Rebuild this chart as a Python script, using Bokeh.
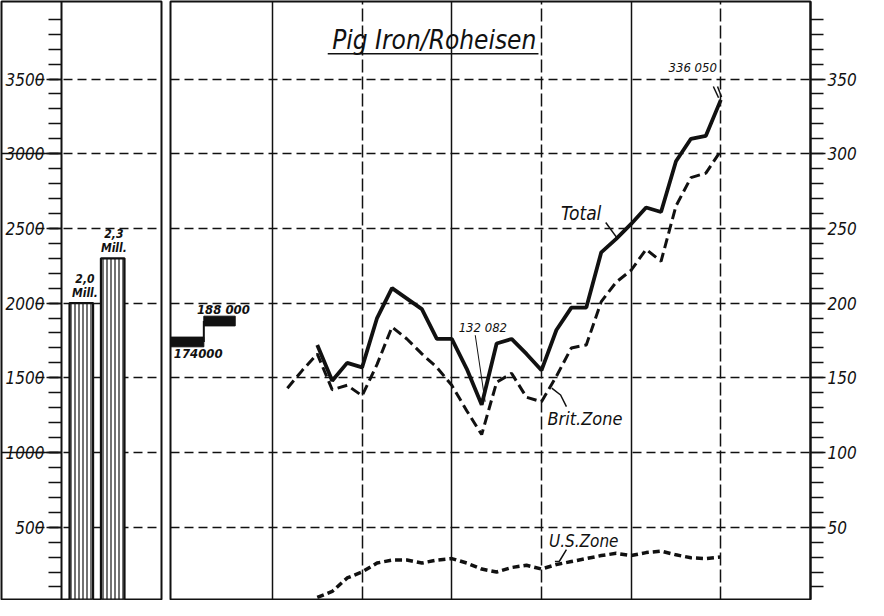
from bokeh.plotting import figure
from bokeh.layouts import row
from bokeh.models import FixedTicker, Grid
from bokeh.core.properties import value
from bokeh.embed import file_html
from bokeh.resources import INLINE

# ---------------- data ----------------
# annual pre-war production (thousand t, left scale)
annual_values = [2000, 2300]
annual_labels = ["2,0\nMill.", "2,3\nMill."]

# pre-war monthly averages (thousand t, right scale)
prewar_monthly = [174, 188]
prewar_labels = ["174000", "188 000"]

# monthly production, thousand t (month index 0 = first solid year line)
brit_months = list(range(1, 31))
brit_zone = [143, 155, 166, 142, 145, 138, 159, 184, 176, 166, 157, 145, 128, 112, 147,
             153, 137, 134, 151, 170, 172, 201, 214, 222, 236, 228, 265, 284, 287, 302]

total_months = list(range(3, 31))
total = [172, 148, 160, 157, 190, 210, 203, 196, 176, 176, 156, 132, 173, 176, 166,
         155, 182, 197, 197, 234, 243, 253, 264, 261, 295, 310, 312, 336.05]
us_zone = [3, 7, 16, 20, 26, 28, 28, 26, 28, 29, 26, 22, 20, 23, 24.5,
           22, 25, 27, 29, 31, 32.5, 31, 33, 34, 31.5, 29.5, 29, 30]

left_ticks = [500, 1000, 1500, 2000, 2500, 3000, 3500]
left_minor = list(range(100, 4000, 100))
right_ticks = [50, 100, 150, 200, 250, 300, 350]
right_minor = list(range(10, 400, 10))
year_lines = [0, 12, 24]
half_year_lines = [6, 18, 30]

# ---------------- style ----------------
FONT = "DejaVu Sans Condensed"
H = 600
BLACK = "#111111"


def style_axis(ax, major_out, minor_out):
    ax.axis_line_width = 2
    ax.axis_line_color = BLACK
    ax.major_tick_out = major_out
    ax.major_tick_in = 0
    ax.minor_tick_out = minor_out
    ax.minor_tick_in = 0
    ax.major_tick_line_width = 1.6
    ax.minor_tick_line_width = 1.6
    ax.major_tick_line_color = BLACK
    ax.minor_tick_line_color = BLACK
    ax.major_label_text_font = FONT
    ax.major_label_text_font_style = "italic"
    ax.major_label_text_font_size = "17px"
    ax.major_label_text_color = BLACK
    ax.major_label_standoff = 2


# ---------------- left panel (annual) ----------------
left = figure(width=165, height=H, x_range=(0, 163), y_range=(16, 4019),
              output_backend="svg", toolbar_location=None,
              x_axis_location=None, y_axis_location="left",
              min_border_left=1, min_border_right=4, min_border_top=1, min_border_bottom=1)
left.outline_line_color = BLACK
left.outline_line_width = 2
left.outline_line_alpha = 1
left.background_fill_color = "white"
left.border_fill_color = "white"
left.xgrid.visible = False
left.ygrid.visible = False

lax = left.yaxis[0]
lax.fixed_location = 61
lax.ticker = FixedTicker(ticks=left_ticks, minor_ticks=left_minor)
style_axis(lax, 15, 13)

left.add_layout(Grid(dimension=1, ticker=FixedTicker(ticks=left_ticks),
                     grid_line_color=BLACK, grid_line_width=1.5, grid_line_dash="9 5",
                     cross_bounds=(35, 163)))
left.add_layout(Grid(dimension=1, ticker=FixedTicker(ticks=[1000, 3000]),
                     grid_line_color=BLACK, grid_line_width=1.5,
                     cross_bounds=(0, 61)))

bar_x = [81.3, 113.3]
left.vbar(x=bar_x, top=annual_values, bottom=0, width=24,
          fill_color="white", line_color=BLACK, line_width=2.2,
          hatch_pattern="vertical_line", hatch_color=BLACK, hatch_scale=4, hatch_weight=1.2)
left.text(x=[85, 114.5], y=annual_values, text=annual_labels,
          text_font=value(FONT), text_font_style="bold italic", text_font_size="12px",
          text_align="center", text_baseline="bottom", text_line_height=1.0,
          y_offset=-3, text_color=BLACK)

# ---------------- right panel (monthly) ----------------
right = figure(width=696, height=H, x_range=(-6.82, 36.0), y_range=(1.6, 401.9),
               output_backend="svg", toolbar_location=None,
               x_axis_location=None, y_axis_location="right",
               min_border_left=5, min_border_right=51, min_border_top=1, min_border_bottom=1)
right.outline_line_color = BLACK
right.outline_line_width = 2
right.outline_line_alpha = 1
right.background_fill_color = "white"
right.border_fill_color = "white"
right.xgrid.visible = False
right.ygrid.visible = False

rax = right.yaxis[0]
rax.ticker = FixedTicker(ticks=right_ticks, minor_ticks=right_minor)
style_axis(rax, 15, 13)

right.add_layout(Grid(dimension=1, ticker=FixedTicker(ticks=right_ticks),
                      grid_line_color=BLACK, grid_line_width=1.5, grid_line_dash="9 5"))
right.add_layout(Grid(dimension=0, ticker=FixedTicker(ticks=year_lines),
                      grid_line_color=BLACK, grid_line_width=1.5))
right.add_layout(Grid(dimension=0, ticker=FixedTicker(ticks=half_year_lines),
                      grid_line_color=BLACK, grid_line_width=1.5, grid_line_dash="13 4"))

# pre-war monthly averages as a step of thick bars
pre_left = [-6.82, -4.59]
pre_right = [-4.59, -2.49]
right.hbar(y=prewar_monthly, left=pre_left, right=pre_right, height=6.5, color=BLACK)
right.segment(x0=[pre_right[0]], y0=[prewar_monthly[0]], x1=[pre_right[0]], y1=[prewar_monthly[1]],
              line_width=2, color=BLACK)
right.text(x=[-6.6, -5.05], y=[166, 195.4], text=prewar_labels,
           text_font=value(FONT), text_font_style="bold italic", text_font_size="13px",
           text_baseline="middle", text_color=BLACK)

# series
right.line(brit_months, brit_zone, line_width=3, line_dash="10 5", color=BLACK)
right.line(total_months, total, line_width=3.8, color=BLACK)
right.line(total_months, us_zone, line_width=3.5, line_dash="7 4", color=BLACK)


def label(x, y, text, size, style="italic"):
    right.text(x=[x], y=[y], text=[text], text_font=value(FONT), text_font_style=style,
               text_font_size=size, text_baseline="middle", text_align="left",
               text_color=BLACK)


label(4.0, 376.3, "Pig Iron/Roheisen", "26px")
right.line([3.7, 17.8], [367, 367], line_width=1.5, color=BLACK)

label(19.3, 260, "Total", "19px")
right.line([22.3, 23.1], [254, 243], line_width=1.5, color=BLACK)

label(18.4, 122.5, "Brit.Zone", "18px")
right.line([18.69, 19.28, 19.67], [143.1, 138.5, 130.7], line_width=1.5, color=BLACK)

label(18.5, 41, "U.S.Zone", "17px")
right.line([19.67, 19.2, 18.9], [35, 27.2, 27.0], line_width=1.5, color=BLACK)

label(12.46, 184, "132 082", "13px")
right.line([13.57, 14.23], [178.5, 134], line_width=1, color=BLACK)

label(26.5, 357.6, "336 050", "13px")
right.multi_line([[29.5, 29.85], [29.78, 30.05]], [[345, 337.5], [345, 338]],
                 line_width=1.5, color=BLACK)

layout = row(left, right, spacing=0)
open("out.html", "w").write(file_html(layout, INLINE))
